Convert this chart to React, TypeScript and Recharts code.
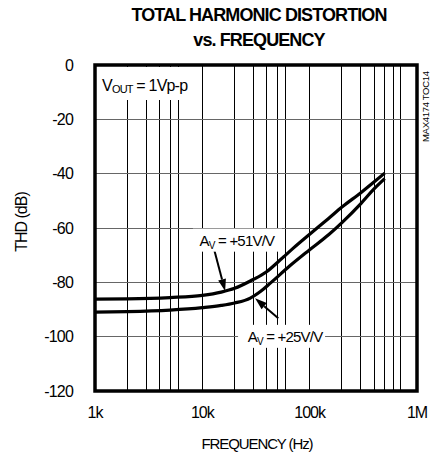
import React from "react";
import {
  CartesianGrid,
  Line,
  LineChart,
  ReferenceArea,
  ReferenceDot,
  ReferenceLine,
  XAxis,
  YAxis,
} from "recharts";

// x axis: frequency (Hz), log scale
const freqTicks = [1000, 10000, 100000, 1000000];
const freqTickLabels = ["1k", "10k", "100k", "1M"];
const decadeStarts = [1000, 10000, 100000];
const decadeSteps = [1, 2, 3, 4, 5, 6, 7, 8, 9];
const gridFreqs = [...decadeStarts.flatMap((d) => decadeSteps.map((m) => d * m)), 1000000];

// y axis: THD (dB)
const thdTicks = [-120, -100, -80, -60, -40, -20, 0];

// AV = +51V/V curve
const av51Freq = [1000, 2000, 5000, 10000, 15000, 20000, 28000, 40000, 53000, 70000, 100000, 150000, 200000, 300000, 400000, 500000];
const av51Thd = [-86.2, -86.1, -85.6, -84.8, -83.6, -82.2, -79.5, -76, -71.8, -67.5, -62.3, -56.5, -52.3, -47, -43, -39.8];

// AV = +25V/V curve
const av25Freq = [1000, 2000, 5000, 10000, 15000, 20000, 28000, 35000, 43000, 65000, 100000, 150000, 200000, 300000, 400000, 500000];
const av25Thd = [-91, -90.8, -90.2, -89.3, -88.5, -87.6, -85.8, -83.3, -80.3, -74, -68, -62.5, -58, -51, -45.5, -41.8];

const av51 = av51Freq.map((f, i) => ({ f, thd: av51Thd[i] }));
const av25 = av25Freq.map((f, i) => ({ f, thd: av25Thd[i] }));

const FONT = '"Liberation Sans", Arial, sans-serif';

const Arrow = (props: any) => {
  const { x1, y1, x2, y2 } = props;
  const ang = Math.atan2(y2 - y1, x2 - x1);
  const len = 12;
  const w = 4;
  const bx = x2 - len * Math.cos(ang);
  const by = y2 - len * Math.sin(ang);
  const px = -Math.sin(ang) * w;
  const py = Math.cos(ang) * w;
  return (
    <g>
      <line x1={x1} y1={y1} x2={bx} y2={by} stroke="#000" strokeWidth={2} />
      <polygon points={`${x2},${y2} ${bx + px},${by + py} ${bx - px},${by - py}`} fill="#000" />
    </g>
  );
};

const GainLabel = ({ cx, cy, gain, left, right }: any) => (
  <g>
    <rect x={cx - left} y={cy - 17} width={left + right} height={23} fill="#fff" />
    <text x={cx} y={cy} textAnchor="middle" fontFamily={FONT} fontSize={15} letterSpacing={-0.8} fill="#000">
      A<tspan fontSize={10} dy={3}>V</tspan>
      <tspan dy={-3}>{` = +${gain}V/V`}</tspan>
    </text>
  </g>
);

const VoutLabel = ({ cx, cy }: any) => (
  <g>
    <rect x={cx + 2} y={cy + 2} width={97} height={33} fill="#fff" />
    <text x={cx + 7} y={cy + 26} fontFamily={FONT} fontSize={16} letterSpacing={-0.8} fill="#000">
      V<tspan fontSize={11} dy={2}>OUT</tspan>
      <tspan dy={-2}> = 1Vp-p</tspan>
    </text>
  </g>
);

const TocLabel = ({ cx, cy }: any) => (
  <text
    transform={`translate(${cx + 12}, ${cy + 77}) rotate(-90)`}
    fontFamily={FONT}
    fontSize={9.5}
    letterSpacing={-0.3}
    fill="#000"
  >
    MAX4174 TOC14
  </text>
);

export default function App() {
  return (
    <div style={{ position: "absolute", left: 0, top: 0, width: 431, height: 452, background: "#fff", fontFamily: FONT }}>
      <div
        style={{
          position: "absolute",
          left: 0,
          top: 3,
          width: 518,
          textAlign: "center",
          fontSize: 18,
          fontWeight: "bold",
          lineHeight: "25px",
          letterSpacing: -0.9,
        }}
      >
        TOTAL HARMONIC DISTORTION
        <br />
        vs. FREQUENCY
      </div>
      <div
        style={{
          position: "absolute",
          left: 22,
          top: 222,
          transform: "translate(-50%, -50%) rotate(-90deg)",
          fontSize: 16,
          letterSpacing: -1,
          whiteSpace: "nowrap",
        }}
      >
        THD (dB)
      </div>
      <div
        style={{
          position: "absolute",
          left: 0,
          top: 435,
          width: 514,
          textAlign: "center",
          fontSize: 15,
          letterSpacing: -1.1,
          whiteSpace: "nowrap",
        }}
      >
        FREQUENCY (Hz)
      </div>
      <div style={{ position: "absolute", left: 0, top: 0 }}>
        <LineChart width={431} height={452} data={av51} margin={{ top: 65, right: 14, bottom: 31, left: 35 }}>
          <CartesianGrid horizontal={false} verticalValues={gridFreqs} stroke="#000" strokeWidth={1} shapeRendering="crispEdges" />
          <CartesianGrid vertical={false} horizontalValues={thdTicks} stroke="#666" strokeWidth={1} shapeRendering="crispEdges" />
          <XAxis
            type="number"
            dataKey="f"
            scale="log"
            domain={[1000, 1000000]}
            ticks={freqTicks}
            tickFormatter={(v: number) => freqTickLabels[freqTicks.indexOf(v)] ?? ""}
            allowDataOverflow
            axisLine={false}
            tickLine={false}
            height={30}
            tickMargin={10}
            tick={{ fill: "#000", fontSize: 16, fontFamily: FONT, letterSpacing: -1 }}
          />
          <YAxis
            type="number"
            domain={[-120, 0]}
            ticks={thdTicks}
            allowDataOverflow
            axisLine={false}
            tickLine={false}
            width={60}
            tickMargin={16}
            tick={{ fill: "#000", fontSize: 16, fontFamily: FONT, letterSpacing: -0.8 }}
          />
          <ReferenceDot x={1000} y={0} r={0} shape={(p: any) => <VoutLabel {...p} />} />
          <ReferenceDot x={21000} y={-66.5} r={0} shape={(p: any) => <GainLabel {...p} gain={51} left={44} right={45} />} />
          <ReferenceDot x={59000} y={-101.9} r={0} shape={(p: any) => <GainLabel {...p} gain={25} left={47} right={40} />} />
          <ReferenceDot x={1000000} y={0} r={0} ifOverflow="visible" shape={(p: any) => <TocLabel {...p} />} />
          <ReferenceLine segment={[{ x: 12900, y: -68 }, { x: 16300, y: -83.2 }]} shape={Arrow} />
          <ReferenceLine segment={[{ x: 51000, y: -93.2 }, { x: 31000, y: -85.9 }]} shape={Arrow} />
          <ReferenceArea x1={1000} x2={1000000} y1={-120} y2={0} fill="none" fillOpacity={0} stroke="#000" strokeWidth={3.5} />
          <Line data={av51} dataKey="thd" type="monotone" stroke="#000" strokeWidth={3.2} dot={false} isAnimationActive={false} />
          <Line data={av25} dataKey="thd" type="monotone" stroke="#000" strokeWidth={3.2} dot={false} isAnimationActive={false} />
        </LineChart>
      </div>
    </div>
  );
}
